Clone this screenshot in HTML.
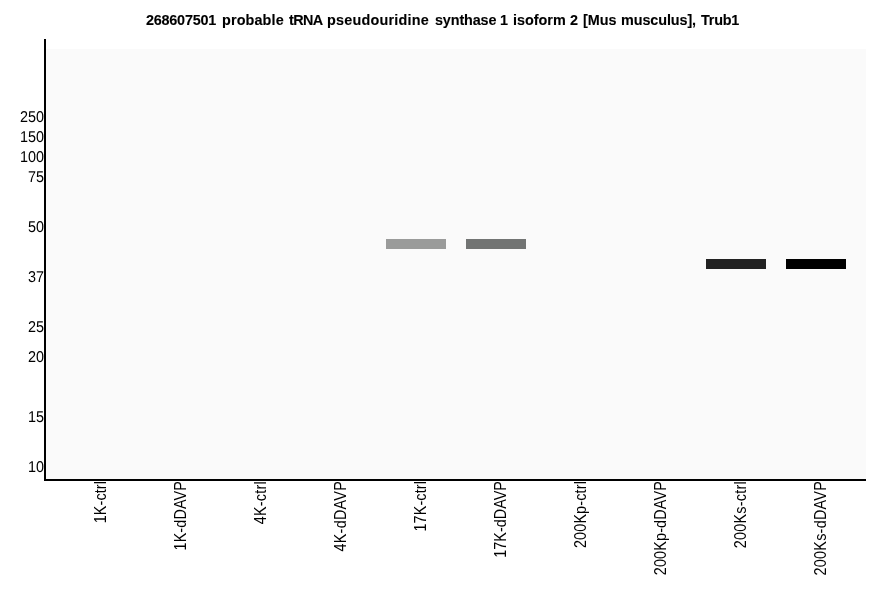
<!DOCTYPE html>
<html><head><meta charset="utf-8"><title>Trub1 blot</title>
<style>
html,body{margin:0;padding:0;background:#fff;}
body{width:886px;height:595px;overflow:hidden;}
svg{display:block;}
text{font-family:"Liberation Sans",sans-serif;fill:#000;}
.t{font-weight:bold;font-size:14.4px;stroke:#000;stroke-width:0.1px;}
.l{font-size:14.4px;}
rect{shape-rendering:crispEdges;}
</style></head><body>
<svg width="886" height="595" viewBox="0 0 886 595">
<rect x="0" y="0" width="886" height="595" fill="#ffffff"/>
<rect x="46" y="49" width="820" height="430" fill="#fafafa"/>
<rect x="44" y="39" width="2" height="442" fill="#000"/>
<rect x="44" y="479" width="822" height="2" fill="#000"/>
<text class="t" y="25" xml:space="preserve"><tspan x="146.00" style="letter-spacing:-0.225px">268607501 </tspan><tspan x="222.00" style="letter-spacing:0.129px">probable </tspan><tspan x="289.00" style="letter-spacing:-0.600px">tRNA </tspan><tspan x="327.00" style="letter-spacing:0.225px">pseudouridine </tspan><tspan x="435.00" style="letter-spacing:-0.129px">synthase </tspan><tspan x="500.00" style="letter-spacing:0.000px">1 </tspan><tspan x="513.00" style="letter-spacing:0.000px">isoform </tspan><tspan x="570.00" style="letter-spacing:0.000px">2 </tspan><tspan x="583.00" style="letter-spacing:0.000px">[Mus </tspan><tspan x="621.00" style="letter-spacing:-0.100px">musculus], </tspan><tspan x="701.00" style="letter-spacing:-0.225px">Trub1</tspan></text>
<text class="l" transform="translate(44,122.0) rotate(0.03) scale(1,1.09)" text-anchor="end">250</text>
<text class="l" transform="translate(44,142.0) rotate(0.03) scale(1,1.09)" text-anchor="end">150</text>
<text class="l" transform="translate(44,162.0) rotate(0.03) scale(1,1.09)" text-anchor="end">100</text>
<text class="l" transform="translate(44,182.0) rotate(0.03) scale(1,1.09)" text-anchor="end">75</text>
<text class="l" transform="translate(44,232.0) rotate(0.03) scale(1,1.09)" text-anchor="end">50</text>
<text class="l" transform="translate(44,282.0) rotate(0.03) scale(1,1.09)" text-anchor="end">37</text>
<text class="l" transform="translate(44,332.0) rotate(0.03) scale(1,1.09)" text-anchor="end">25</text>
<text class="l" transform="translate(44,362.0) rotate(0.03) scale(1,1.09)" text-anchor="end">20</text>
<text class="l" transform="translate(44,422.0) rotate(0.03) scale(1,1.09)" text-anchor="end">15</text>
<text class="l" transform="translate(44,472.0) rotate(0.03) scale(1,1.09)" text-anchor="end">10</text>
<rect x="386" y="239" width="60" height="10" fill="#9a9b9a"/>
<rect x="466" y="239" width="60" height="10" fill="#727473"/>
<rect x="706" y="259" width="60" height="10" fill="#222222"/>
<rect x="786" y="259" width="60" height="10" fill="#000000"/>
<text class="l" transform="translate(106,481) rotate(-90) scale(1,1.09)" text-anchor="end" style="letter-spacing:0.110px">1K-ctrl</text>
<text class="l" transform="translate(186,481) rotate(-90) scale(1,1.09)" text-anchor="end" style="letter-spacing:0.125px">1K-dDAVP</text>
<text class="l" transform="translate(266,481) rotate(-90) scale(1,1.09)" text-anchor="end" style="letter-spacing:0.250px">4K-ctrl</text>
<text class="l" transform="translate(346,481) rotate(-90) scale(1,1.09)" text-anchor="end" style="letter-spacing:0.250px">4K-dDAVP</text>
<text class="l" transform="translate(426,481) rotate(-90) scale(1,1.09)" text-anchor="end" style="letter-spacing:0.125px">17K-ctrl</text>
<text class="l" transform="translate(506,481) rotate(-90) scale(1,1.09)" text-anchor="end" style="letter-spacing:0.030px">17K-dDAVP</text>
<text class="l" transform="translate(586,481) rotate(-90) scale(1,1.09)" text-anchor="end" style="letter-spacing:0.150px">200Kp-ctrl</text>
<text class="l" transform="translate(666,481) rotate(-90) scale(1,1.09)" text-anchor="end" style="letter-spacing:0.160px">200Kp-dDAVP</text>
<text class="l" transform="translate(746,481) rotate(-90) scale(1,1.09)" text-anchor="end" style="letter-spacing:0.250px">200Ks-ctrl</text>
<text class="l" transform="translate(826,481) rotate(-90) scale(1,1.09)" text-anchor="end" style="letter-spacing:0.250px">200Ks-dDAVP</text>
</svg>
</body></html>
